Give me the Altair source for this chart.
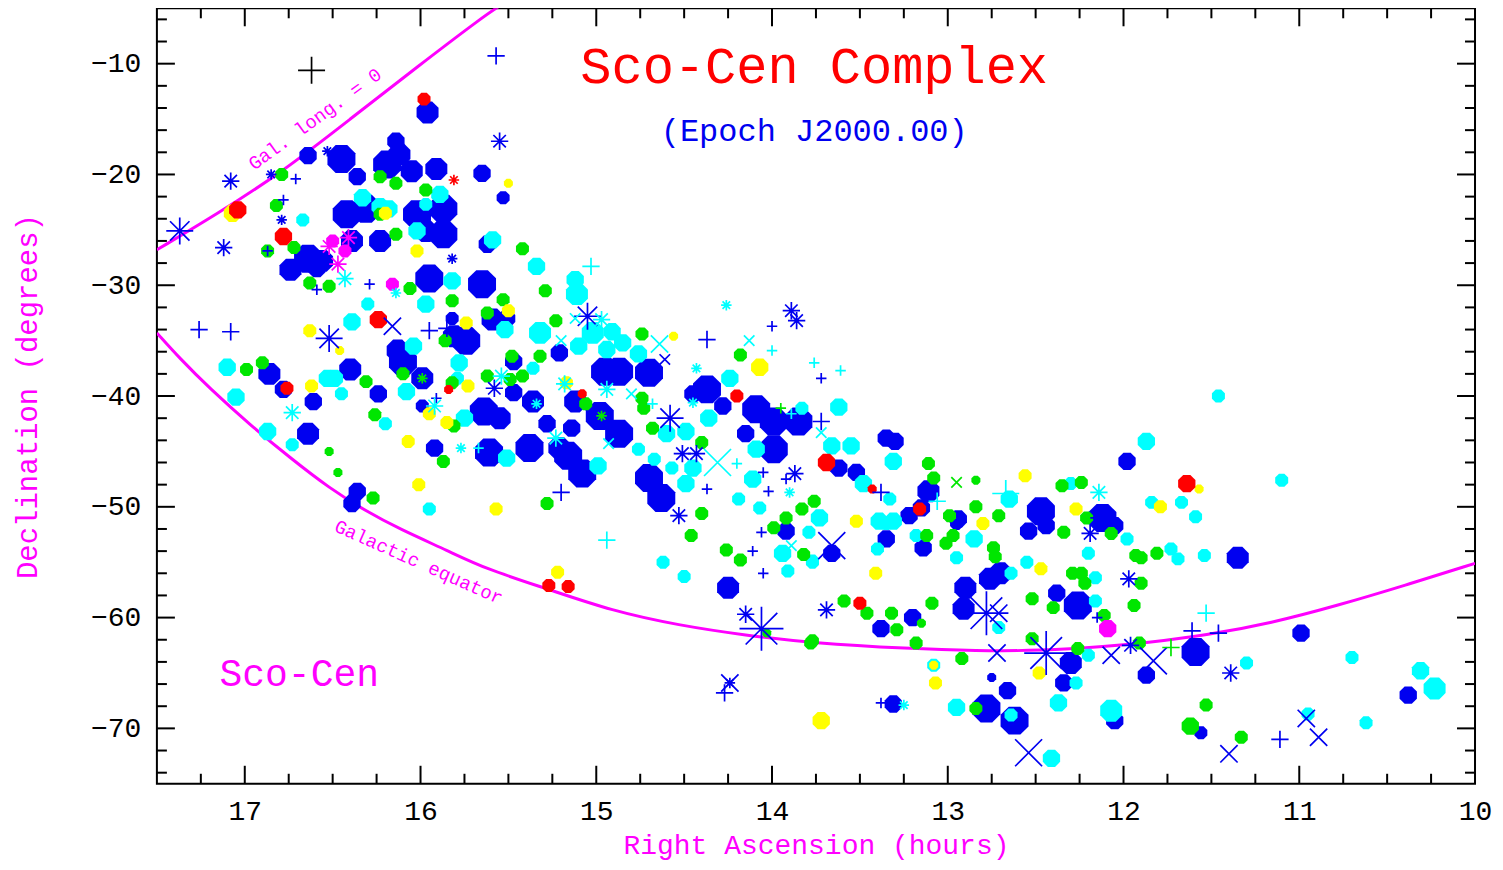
import altair as alt
import pandas as pd

FONT = "Liberation Mono"

# ---------------- axes ----------------
RA_DOMAIN = [17.5, 10]
DEC_DOMAIN = [-75, -5]
X_LABELS = [17, 16, 15, 14, 13, 12, 11, 10]
Y_LABELS = [-10, -20, -30, -40, -50, -60, -70]
X_MAJOR_TICKS = [17, 16, 15, 14, 13, 12, 11]
X_MINOR_TICKS = [17.25, 16.75, 16.5, 16.25, 15.75, 15.5, 15.25, 14.75, 14.5, 14.25,
                 13.75, 13.5, 13.25, 12.75, 12.5, 12.25, 11.75, 11.5, 11.25, 10.75, 10.5, 10.25]
Y_MAJOR_TICKS = [-10, -20, -30, -40, -50, -60, -70]
Y_MINOR_TICKS = [-6, -8, -12, -14, -16, -18, -22, -24, -26, -28, -32, -34, -36, -38,
                 -42, -44, -46, -48, -52, -54, -56, -58, -62, -64, -66, -68, -72, -74]

# ---------------- reference curves ----------------
GAL_EQ_RA = [17.50, 17.37, 17.20, 16.97, 16.74, 16.52, 16.31, 16.12, 15.84, 15.63,
             15.28, 14.91, 14.53, 14.15, 13.77, 13.22, 12.84, 12.47, 12.09, 11.88,
             11.53, 11.16, 10.78, 10.40, 10.00]
GAL_EQ_DEC = [-34.3, -36.6, -39.3, -42.6, -45.6, -48.3, -50.4, -52.0, -54.0, -55.6,
              -57.4, -59.4, -60.7, -61.6, -62.3, -62.8, -63.0, -63.0, -62.6, -62.3,
              -61.6, -60.5, -58.9, -57.1, -55.1]
GAL_L0_RA = [17.50, 17.16, 16.78, 16.40, 16.02, 15.63, 15.55]
GAL_L0_DEC = [-26.8, -23.6, -19.7, -15.0, -10.3, -5.6, -4.8]

# ---------------- stars: (RA h, Dec deg, magnitude class) ----------------
BLUE_DOTS = [
    (15.96, -14.4, 4), (16.64, -18.3, 3), (16.45, -18.6, 5), (16.36, -20.2, 3), (16.14, -17.0, 3),
    (16.12, -18.2, 4), (16.19, -19.1, 5), (16.05, -19.7, 4), (15.91, -19.5, 4), (15.65, -19.9, 3),
    (16.31, -23.1, 5), (16.42, -23.6, 5), (16.02, -23.6, 5), (15.87, -23.1, 5), (15.87, -25.4, 5),
    (15.97, -25.1, 4), (15.62, -26.3, 3), (16.64, -27.6, 5), (16.56, -27.8, 4), (15.95, -29.4, 5),
    (15.65, -29.9, 5), (15.53, -22.1, 2), (16.23, -26.0, 4), (16.39, -26.0, 4), (16.74, -28.6, 4),
    (16.59, -28.5, 3),
    (15.59, -33.1, 4), (15.51, -33.0, 3), (15.74, -35.0, 5), (15.81, -34.6, 4), (15.82, -33.0, 2),
    (16.10, -36.9, 5), (16.13, -35.9, 4), (15.99, -38.4, 4), (16.40, -37.6, 4), (16.86, -38.0, 4),
    (16.78, -39.4, 3), (16.61, -40.5, 3), (16.24, -39.8, 3), (15.64, -41.4, 5), (15.99, -40.9, 2),
    (16.64, -43.4, 4), (15.92, -44.7, 3), (15.64, -45.2, 3), (16.36, -48.6, 3), (16.39, -49.7, 3),
    (15.47, -36.9, 3), (15.21, -36.1, 3), (14.95, -37.8, 5), (14.87, -37.8, 5), (14.70, -37.9, 5),
    (15.47, -39.7, 3), (15.36, -40.5, 4), (15.55, -42.0, 4), (15.12, -40.5, 4), (14.98, -41.8, 5),
    (14.87, -43.4, 5), (15.14, -42.9, 3), (15.28, -42.5, 3), (15.38, -44.7, 5), (15.61, -45.1, 5),
    (15.21, -44.7, 4), (15.16, -45.4, 5), (15.08, -47.0, 5),
    (14.45, -39.8, 3), (14.37, -39.4, 5), (14.28, -40.9, 3), (14.09, -41.2, 5), (13.99, -42.3, 5),
    (13.85, -42.3, 5), (14.15, -43.4, 3), (13.99, -44.8, 5), (14.70, -47.4, 5), (14.63, -49.2, 5),
    (13.35, -43.8, 3), (13.30, -44.1, 3), (13.62, -46.5, 3), (13.52, -46.9, 3), (13.11, -48.6, 4),
    (13.15, -50.1, 3), (13.22, -50.8, 3), (12.94, -51.1, 3), (12.47, -50.4, 5), (12.12, -51.0, 5),
    (11.98, -45.9, 3), (12.54, -52.2, 3), (12.44, -51.7, 3), (12.05, -51.7, 3), (13.92, -52.2, 3),
    (14.25, -57.3, 4), (13.66, -54.2, 3), (13.35, -52.9, 3), (13.14, -53.7, 3), (12.95, -51.5, 2),
    (12.90, -57.3, 4), (12.91, -59.2, 4), (12.76, -56.5, 4), (12.70, -56.0, 4), (12.38, -57.8, 3),
    (12.26, -58.9, 5), (13.38, -61.0, 3), (13.20, -60.0, 3), (12.30, -64.1, 4), (12.34, -65.9, 3),
    (11.87, -65.2, 3), (12.75, -65.4, 1), (12.66, -66.6, 3), (12.78, -68.2, 5), (12.62, -69.3, 5),
    (12.05, -69.3, 3), (13.31, -67.8, 3), (11.35, -54.6, 4), (11.59, -63.1, 5), (10.99, -61.4, 3),
    (10.38, -67.0, 3), (11.56, -70.4, 2),
]
CYAN_DOTS = [
    (16.33, -22.1, 3), (16.23, -22.9, 3), (16.18, -23.1, 3), (16.02, -25.1, 3), (15.97, -22.7, 2),
    (15.89, -21.8, 3), (15.59, -25.9, 3), (15.34, -28.3, 3), (16.67, -24.1, 2), (15.82, -29.6, 3),
    (16.39, -33.3, 3), (16.30, -31.7, 2), (15.97, -31.7, 3), (17.10, -37.4, 3), (17.05, -40.1, 3),
    (16.87, -43.2, 3), (16.73, -44.4, 2), (16.53, -38.4, 3), (16.49, -38.4, 3), (16.45, -39.8, 2),
    (16.04, -35.5, 3), (16.08, -39.6, 3), (16.20, -42.5, 2), (15.95, -50.2, 2), (15.78, -37.0, 3),
    (15.79, -38.4, 2), (15.75, -42.0, 3), (15.52, -34.0, 3), (15.12, -29.5, 3), (15.11, -30.8, 4),
    (15.32, -34.3, 4), (15.02, -34.3, 4), (14.91, -34.2, 3), (15.10, -35.5, 3), (14.85, -35.2, 3),
    (14.76, -36.2, 3), (14.94, -35.8, 3), (15.36, -37.5, 2), (14.24, -38.4, 3), (15.51, -45.6, 3),
    (14.60, -43.4, 3), (14.49, -43.2, 3), (14.36, -42.0, 3), (14.09, -44.8, 3), (14.11, -47.5, 3),
    (14.45, -46.5, 3), (14.49, -47.9, 3), (14.57, -46.5, 2), (14.76, -44.8, 2), (14.67, -45.7, 2),
    (14.99, -46.3, 3), (14.19, -49.3, 2), (14.07, -50.1, 2), (13.83, -41.1, 2), (13.62, -41.0, 3),
    (13.66, -44.5, 3), (13.55, -44.5, 3), (13.31, -45.9, 3), (13.48, -47.9, 3), (13.33, -49.3, 2),
    (13.73, -51.0, 3), (13.39, -51.3, 3), (13.31, -51.3, 3), (12.65, -49.3, 3), (12.30, -47.9, 2),
    (11.87, -44.1, 3), (11.46, -40.0, 2), (11.10, -47.6, 2), (11.84, -49.6, 2), (11.67, -49.6, 2),
    (11.59, -50.9, 2), (13.77, -55.0, 2), (13.35, -51.5, 2), (13.40, -53.8, 2), (13.18, -52.6, 2),
    (12.85, -52.9, 3), (12.95, -54.6, 2), (11.98, -52.9, 2), (12.55, -55.0, 2), (12.64, -56.0, 2),
    (12.20, -54.2, 2), (12.16, -56.4, 2), (12.16, -58.5, 2), (12.71, -60.9, 2), (14.62, -55.0, 2),
    (14.50, -56.3, 2), (13.79, -52.3, 2), (13.94, -54.2, 3), (13.77, -54.9, 2), (13.91, -55.8, 2),
    (12.20, -63.4, 2), (12.27, -65.9, 2), (13.08, -64.3, 2), (12.95, -68.1, 3), (12.64, -68.8, 2),
    (12.37, -67.7, 3), (12.07, -68.4, 4), (12.41, -72.7, 3), (11.73, -53.8, 2), (11.69, -54.7, 2),
    (11.54, -54.4, 2), (11.30, -64.1, 2), (10.70, -63.6, 2), (10.31, -64.8, 3), (10.23, -66.4, 4),
    (10.62, -69.5, 2), (10.95, -68.7, 2),
]
GREEN_DOTS = [
    (16.79, -20.0, 2), (16.82, -22.8, 2), (16.72, -26.6, 2), (16.87, -26.9, 2), (16.23, -20.2, 2),
    (16.14, -20.8, 2), (16.14, -25.4, 2), (16.23, -23.6, 2), (15.97, -21.4, 2), (15.42, -26.7, 2),
    (16.63, -29.8, 2), (16.52, -30.1, 2), (16.06, -30.3, 2), (15.82, -31.4, 2), (16.99, -37.6, 2),
    (16.90, -37.0, 2), (15.86, -35.0, 2), (16.52, -45.0, 1), (16.47, -46.9, 1), (16.27, -49.2, 2),
    (16.31, -38.7, 2), (16.26, -41.7, 2), (16.10, -38.0, 2), (15.87, -45.9, 2), (15.82, -38.8, 2),
    (15.81, -42.7, 2), (15.29, -30.5, 2), (15.53, -31.3, 2), (15.62, -32.5, 2), (15.23, -33.2, 2),
    (14.74, -34.4, 2), (14.18, -36.3, 2), (15.48, -36.4, 2), (15.32, -36.4, 2), (15.62, -38.2, 2),
    (15.49, -38.5, 2), (15.42, -38.2, 2), (15.06, -40.7, 2), (14.74, -40.2, 2), (14.73, -41.1, 2),
    (14.68, -42.9, 2), (14.40, -44.2, 2), (15.28, -49.7, 2), (14.40, -50.6, 2), (13.83, -50.2, 2),
    (13.92, -51.0, 2), (13.76, -49.5, 2), (13.11, -46.1, 2), (13.08, -47.4, 2), (12.84, -47.6, 1),
    (12.84, -50.0, 2), (12.71, -50.8, 2), (12.99, -50.8, 2), (12.35, -48.1, 2), (12.24, -47.8, 2),
    (12.21, -51.0, 2), (14.46, -52.6, 2), (14.26, -53.9, 2), (14.18, -54.8, 2), (13.99, -51.9, 2),
    (13.82, -54.3, 2), (14.03, -61.4, 1), (13.78, -62.3, 2), (13.12, -52.6, 2), (13.01, -53.3, 2),
    (12.97, -52.6, 2), (12.74, -53.7, 2), (12.73, -54.5, 2), (12.34, -52.3, 2), (12.07, -52.4, 2),
    (11.93, -54.4, 2), (11.90, -56.9, 2), (12.52, -58.3, 2), (12.40, -59.1, 2), (12.29, -56.0, 2),
    (12.24, -56.0, 2), (12.22, -56.9, 2), (11.94, -58.9, 2), (12.11, -59.8, 2), (13.59, -58.5, 2),
    (13.46, -59.6, 2), (13.32, -59.6, 2), (13.29, -61.1, 2), (13.09, -58.7, 2), (13.15, -60.5, 1),
    (13.18, -62.3, 2), (13.77, -62.1, 2), (12.92, -63.7, 2), (12.52, -61.9, 2), (12.26, -62.8, 2),
    (11.91, -62.3, 2), (12.84, -68.2, 2), (11.90, -54.6, 2), (11.81, -54.2, 2), (11.53, -67.9, 2),
    (11.62, -69.8, 3), (11.33, -70.8, 2),
]
YELLOW_DOTS = [
    (15.50, -20.8, 1), (17.07, -23.5, 3), (16.20, -23.5, 2), (16.02, -26.9, 2), (16.63, -34.1, 2),
    (16.46, -35.9, 1), (15.74, -33.4, 2), (16.62, -39.1, 2), (15.73, -39.1, 2), (16.07, -44.1, 2),
    (15.95, -41.6, 2), (15.85, -42.4, 2), (16.01, -48.0, 2), (15.57, -50.2, 2), (15.50, -32.3, 2),
    (14.56, -34.6, 1), (14.07, -37.4, 3), (15.17, -38.8, 2), (13.52, -51.3, 2), (12.56, -47.2, 2),
    (12.80, -51.5, 2), (12.27, -50.2, 2), (11.57, -48.4, 1), (11.79, -50.0, 2), (15.22, -55.9, 2),
    (13.41, -56.0, 2), (12.47, -55.6, 2), (12.48, -65.0, 2), (13.08, -64.3, 1), (13.07, -65.9, 2),
    (13.72, -69.3, 3),
]
RED_DOTS = [
    (15.98, -13.2, 2), (17.04, -23.2, 3), (16.78, -25.6, 3), (16.24, -33.1, 3), (16.76, -39.3, 2),
    (15.84, -39.4, 1), (15.08, -39.8, 1), (14.20, -40.0, 2), (13.69, -46.0, 3), (13.43, -48.4, 1),
    (13.16, -50.2, 2), (11.64, -47.9, 3), (15.27, -57.1, 2), (15.16, -57.2, 2), (13.50, -58.7, 2),
]
MAGENTA_DOTS = [(12.09, -61.0, 3), (16.16, -29.9, 2), (16.50, -26.0, 2), (16.43, -26.9, 2)]

BLUE_PLUS = [
    (15.57, -9.3, 2), (16.71, -20.4, 1), (16.78, -22.3, 1), (16.87, -26.9, 1), (17.26, -34.0, 2),
    (17.08, -34.2, 2), (15.95, -34.1, 2), (15.85, -33.9, 2), (16.59, -30.4, 1), (16.29, -29.9, 1),
    (14.37, -34.9, 2), (14.00, -33.7, 1), (15.20, -48.7, 2), (14.37, -48.4, 1), (14.05, -46.9, 1),
    (13.92, -47.5, 1), (14.02, -48.6, 1), (13.72, -38.4, 1), (13.72, -42.3, 2), (13.38, -48.7, 2),
    (14.06, -52.3, 1), (14.11, -54.0, 1), (14.05, -56.0, 1), (14.27, -66.8, 2), (13.38, -67.7, 1),
    (12.15, -60.0, 1), (11.61, -61.2, 2), (11.46, -61.4, 2), (11.11, -71.0, 2), (15.91, -40.2, 1),
]
BLUE_X = [
    (16.16, -33.7, 2), (14.61, -36.7, 1), (13.66, -53.5, 3), (12.71, -59.6, 2), (12.72, -63.2, 2),
    (12.07, -63.4, 2), (11.83, -63.9, 3), (12.54, -72.2, 3), (10.96, -69.1, 2), (10.89, -70.8, 2),
    (11.40, -72.3, 2), (14.24, -65.9, 2),
]
BLUE_STAR = [
    (17.37, -25.1, 3), (17.08, -20.6, 2), (17.12, -26.6, 2), (16.85, -20.0, 1), (16.79, -24.1, 1),
    (16.53, -17.9, 1), (15.55, -17.0, 2), (16.52, -34.8, 3), (15.82, -27.6, 1), (15.05, -32.8, 3),
    (13.89, -32.3, 2), (13.86, -33.2, 2), (15.58, -39.3, 2), (14.58, -42.0, 3), (14.51, -45.2, 2),
    (14.43, -45.2, 2), (14.53, -50.8, 2), (13.87, -47.0, 2), (14.15, -59.7, 2), (14.06, -61.0, 4),
    (13.69, -59.3, 2), (12.78, -59.6, 4), (12.44, -63.2, 4), (12.19, -52.4, 2), (11.97, -56.5, 2),
    (11.96, -62.5, 2), (11.39, -65.0, 2), (12.14, -51.0, 2), (14.24, -65.9, 1),
]
CYAN_STAR = [
    (16.14, -30.7, 1), (16.43, -29.4, 2), (16.73, -41.5, 2), (15.92, -40.9, 2), (15.77, -44.7, 1),
    (14.97, -33.1, 2), (15.54, -38.2, 2), (15.18, -38.9, 2), (14.94, -39.4, 2), (15.23, -43.8, 2),
    (14.26, -31.8, 1), (14.43, -37.5, 1), (14.45, -40.6, 1), (13.90, -48.7, 1), (12.14, -48.7, 2),
    (13.25, -67.9, 1), (15.34, -40.7, 1),
]
CYAN_PLUS = [
    (15.03, -28.3, 2), (13.76, -37.0, 1), (13.61, -37.7, 1), (14.00, -35.9, 1), (15.67, -44.7, 1),
    (14.68, -40.7, 1), (14.20, -46.1, 1), (13.89, -41.6, 1), (13.06, -49.5, 2), (12.67, -48.8, 3),
    (14.94, -53.0, 2), (11.53, -59.6, 2),
]
CYAN_X = [
    (15.12, -33.0, 1), (15.20, -35.0, 1), (14.64, -35.3, 2), (14.13, -35.0, 1), (14.80, -39.8, 1),
    (14.93, -44.3, 1), (14.31, -46.0, 3), (13.72, -43.3, 1), (13.89, -53.5, 1),
]
GREEN_PLUS = [(11.73, -62.7, 2), (13.95, -41.1, 1)]
GREEN_X = [(12.95, -47.8, 1)]
GREEN_STAR = [(14.97, -41.8, 1), (15.99, -38.4, 1)]
RED_STAR = [(15.81, -20.5, 1)]
MAGENTA_STAR = [(16.52, -26.5, 2), (16.41, -25.7, 2), (16.47, -28.1, 2)]
BLACK_PLUS = [(16.62, -10.6, 3)]

# ---------------- annotations ----------------
TITLE_TEXT, TITLE_POS = ["Sco-Cen Complex"], (13.76, -10.3)
EPOCH_TEXT, EPOCH_POS = ["(Epoch J2000.00)"], (13.76, -16.1)
REGION_TEXT, REGION_POS = ["Sco-Cen"], (16.69, -65.2)
L0_TEXT, L0_POS = ["Gal. long. = 0"], (16.60, -15.0)
EQ_TEXT, EQ_POS = ["Galactic equator"], (16.01, -55.0)

COLOR_DOMAIN = ["blue", "cyan", "green", "yellow", "red", "magenta", "black"]
COLOR_RANGE = ["#0000f0", "#00ffff", "#00e600", "#ffff00", "#ff0000", "#ff00ff", "#000000"]

OCT = "M-0.4142,-1L0.4142,-1L1,-0.4142L1,0.4142L0.4142,1L-0.4142,1L-1,0.4142L-1,-0.4142Z"
PLUS = "M-1,0L1,0M0,-1L0,1"
XMARK = "M-1,-1L1,1M-1,1L1,-1"
STAR = "M-1,0L1,0M0,-1L0,1M-0.72,-0.72L0.72,0.72M-0.72,0.72L0.72,-0.72"

# marker area (px^2) for each magnitude class (style, not data)
DOT_AREA = {1: 81, 2: 169, 3: 300, 4: 484, 5: 784}
SYM_AREA = {1: 110, 2: 300, 3: 729, 4: 1936}


def rows(lst, col, kind, areas):
    return [dict(ra=a, dec=d, cls=c, col=col, kind=kind, area=areas[c]) for a, d, c in lst]


dots = pd.DataFrame(
    rows(BLUE_DOTS, "blue", "dot", DOT_AREA) + rows(CYAN_DOTS, "cyan", "dot", DOT_AREA)
    + rows(GREEN_DOTS, "green", "dot", DOT_AREA) + rows(YELLOW_DOTS, "yellow", "dot", DOT_AREA)
    + rows(RED_DOTS, "red", "dot", DOT_AREA) + rows(MAGENTA_DOTS, "magenta", "dot", DOT_AREA)
)
syms = pd.DataFrame(
    rows(BLUE_PLUS, "blue", "plus", SYM_AREA) + rows(BLUE_X, "blue", "x", SYM_AREA)
    + rows(BLUE_STAR, "blue", "star", SYM_AREA) + rows(CYAN_STAR, "cyan", "star", SYM_AREA)
    + rows(CYAN_PLUS, "cyan", "plus", SYM_AREA) + rows(CYAN_X, "cyan", "x", SYM_AREA)
    + rows(GREEN_PLUS, "green", "plus", SYM_AREA) + rows(GREEN_X, "green", "x", SYM_AREA)
    + rows(GREEN_STAR, "green", "star", SYM_AREA) + rows(RED_STAR, "red", "star", SYM_AREA)
    + rows(MAGENTA_STAR, "magenta", "star", SYM_AREA) + rows(BLACK_PLUS, "black", "plus", SYM_AREA)
)

W, H = 1319, 776
MAJ, MIN = 18, 10

xs = alt.Scale(domain=RA_DOMAIN, nice=False, zero=False)
ys = alt.Scale(domain=DEC_DOMAIN, nice=False, zero=False)
xaxis = alt.Axis(values=X_LABELS, format="d", ticks=False, domain=False, grid=False,
                 labelFont=FONT, labelFontSize=28, labelColor="black", labelPadding=14,
                 labelFlush=False, labelOverlap=False,
                 titleFont=FONT, titleFontSize=28, titleColor="#ff00ff", titleFontWeight="normal",
                 titleBaseline="alphabetic", titleY=70)
yaxis = alt.Axis(values=Y_LABELS, format="d", ticks=False, domain=False, grid=False,
                 labelFont=FONT, labelFontSize=28, labelColor="black", labelPadding=16,
                 labelFlush=False, labelOverlap=False,
                 titleFont=FONT, titleFontSize=29, titleColor="#ff00ff", titleFontWeight="normal",
                 titlePadding=48)
X = alt.X("ra:Q", scale=xs, axis=xaxis, title="Right Ascension (hours)")
Y = alt.Y("dec:Q", scale=ys, axis=yaxis, title="Declination (degrees)")
CLR = alt.Color("col:N", scale=alt.Scale(domain=COLOR_DOMAIN, range=COLOR_RANGE), legend=None)

layers = []
# curves
eq = pd.DataFrame({"ra": GAL_EQ_RA, "dec": GAL_EQ_DEC})
l0 = pd.DataFrame({"ra": GAL_L0_RA, "dec": GAL_L0_DEC})
for d in (eq, l0):
    layers.append(alt.Chart(d).mark_line(color="#ff00ff", strokeWidth=3, interpolate="basis", clip=True)
                  .encode(x=X, y=Y))

# filled octagon stars
layers.append(alt.Chart(dots).mark_point(filled=True, opacity=1, strokeWidth=0, shape=OCT).encode(
    x=X, y=Y, color=CLR, size=alt.Size("area:Q", scale=None)))
# stroke symbols
layers.append(alt.Chart(syms).mark_point(filled=False, opacity=1, strokeWidth=1.7).encode(
    x=X, y=Y, color=CLR,
    shape=alt.Shape("kind:N", scale=alt.Scale(domain=["plus", "x", "star"], range=[PLUS, XMARK, STAR]), legend=None),
    size=alt.Size("area:Q", scale=None)))

# inward ticks
xmaj = pd.DataFrame({"ra": X_MAJOR_TICKS})
xmin = pd.DataFrame({"ra": X_MINOR_TICKS})
ymaj = pd.DataFrame({"dec": Y_MAJOR_TICKS})
ymin = pd.DataFrame({"dec": Y_MINOR_TICKS})
for d, L in ((xmaj, MAJ), (xmin, MIN)):
    layers.append(alt.Chart(d).mark_rule(color="black", strokeWidth=2).encode(x=X, y=alt.value(0), y2=alt.value(L)))
    layers.append(alt.Chart(d).mark_rule(color="black", strokeWidth=2).encode(x=X, y=alt.value(H), y2=alt.value(H - L)))
for d, L in ((ymaj, MAJ), (ymin, MIN)):
    layers.append(alt.Chart(d).mark_rule(color="black", strokeWidth=2).encode(y=Y, x=alt.value(0), x2=alt.value(L)))
    layers.append(alt.Chart(d).mark_rule(color="black", strokeWidth=2).encode(y=Y, x=alt.value(W), x2=alt.value(W - L)))


def text_layer(txt, pos, color, size, angle=0):
    d = pd.DataFrame({"ra": [pos[0]], "dec": [pos[1]], "t": txt})
    return alt.Chart(d).mark_text(font=FONT, fontSize=size, color=color, angle=angle,
                                  align="center", baseline="middle").encode(x=X, y=Y, text="t:N")


layers.append(text_layer(TITLE_TEXT, TITLE_POS, "#ff0000", 52))
layers.append(text_layer(EPOCH_TEXT, EPOCH_POS, "#0000f0", 32))
layers.append(text_layer(REGION_TEXT, REGION_POS, "#ff00ff", 38))
layers.append(text_layer(L0_TEXT, L0_POS, "#ff00ff", 19, 324))
layers.append(text_layer(EQ_TEXT, EQ_POS, "#ff00ff", 19, 24))

chart = alt.layer(*layers).properties(
    width=W, height=H, autosize="none",
    padding={"left": 149, "top": 0, "right": 20, "bottom": 78},
).configure_view(stroke="black", strokeWidth=2)

chart.save("out.html", embed_options={"renderer": "svg", "actions": False})
